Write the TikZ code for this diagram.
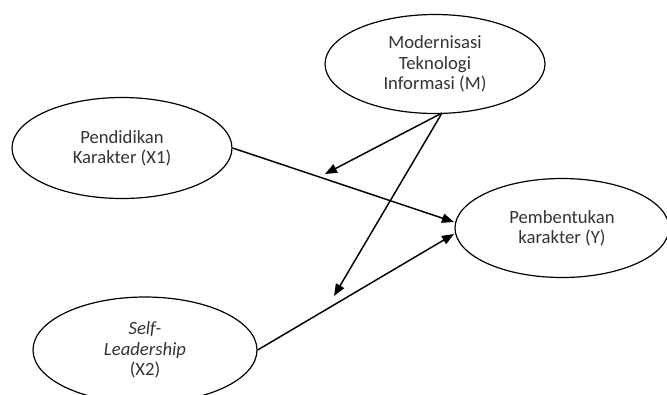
\documentclass[tikz,border=0pt]{standalone}
\usepackage{fontspec}
\setmainfont{Carlito}
\usetikzlibrary{shapes.geometric,arrows.meta}
\begin{document}
\begin{tikzpicture}[x=0.75pt,y=-0.75pt,
  var/.style={draw, line width=0.9pt, ellipse, inner sep=0pt, align=center, text=black!80, font=\fontsize{14}{15.2}\selectfont},
  arr/.style={line width=1.1pt, -{Triangle[length=9pt,width=7pt]}}]
\useasboundingbox (0,0) rectangle (667,394);
\node[var, minimum width=165pt, minimum height=74.25pt] (M) at (435,64) {Modernisasi\\Teknologi\\Informasi (M)};
\node[var, minimum width=165pt, minimum height=75.75pt] (X1) at (122,148) {Pendidikan\\Karakter (X1)};
\node[var, minimum width=168pt, minimum height=79.5pt] (X2) at (145,350) {\textit{Self-}\\\textit{Leadership}\\(X2)};
\node[var, minimum width=160.5pt, minimum height=74.25pt] (Y) at (562,228) {Pembentukan\\karakter (Y)};
\coordinate (ms) at (442,113);
\coordinate (t1) at (325,174);
\coordinate (t2) at (334,296);
\coordinate (ya) at (454,222);
\coordinate (yb) at (454,234);
\draw[arr] (X1.east) -- (ya);
\draw[arr] (X2.east) -- (yb);
\draw[arr] (ms) -- (t1);
\draw[arr] (ms) -- (t2);
\end{tikzpicture}
\end{document}
